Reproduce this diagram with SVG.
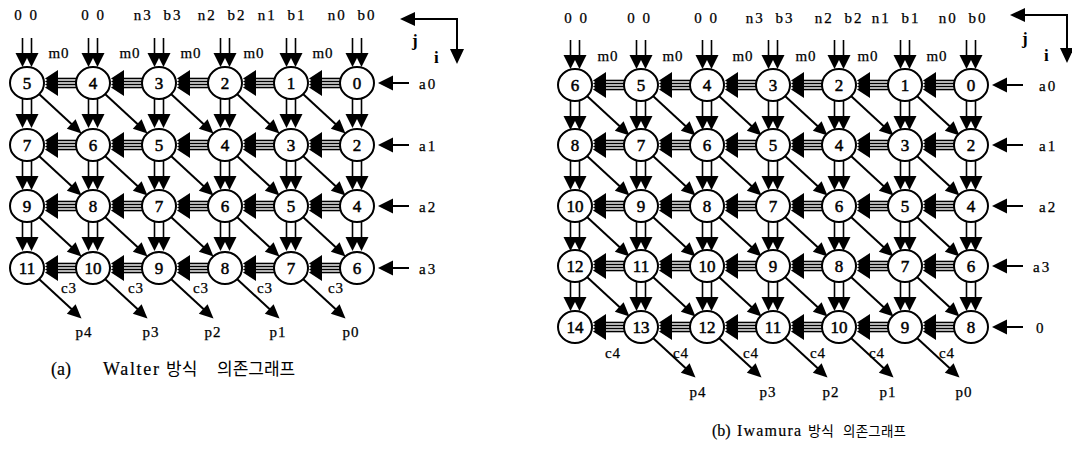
<svg xmlns="http://www.w3.org/2000/svg" width="1072" height="457" viewBox="0 0 1072 457">
<style>
.bg{fill:#fff}
line{stroke:#000;stroke-width:1.6}
.dl{stroke-width:2}
polygon{fill:#000}
.n ellipse{fill:#fff;stroke:#000;stroke-width:2}
.n text{font-family:"Liberation Serif",serif;font-size:17px;text-anchor:middle;fill:#000;stroke:#000;stroke-width:0.5}
.t{font-family:"Liberation Serif",serif;font-size:15px;fill:#000;stroke:#000;stroke-width:0.25}
.m{text-anchor:middle}
.top{letter-spacing:2px;word-spacing:5px}
.zz{letter-spacing:1px;word-spacing:2px}
.ls1{letter-spacing:1px}
.ls2{letter-spacing:2px}
.ax{font-family:"Liberation Serif",serif;font-size:17px;font-weight:bold;fill:#000}
.cap{font-family:"Liberation Serif",serif;font-size:18px;fill:#000;stroke:#000;stroke-width:0.2}
.ko{font-family:"Noto Sans CJK KR",sans-serif;fill:#000;stroke:none}
</style>
<defs>
<g id="v2">
<line x1="-4.5" y1="0" x2="-4.5" y2="16"/><line x1="4.5" y1="0" x2="4.5" y2="16"/>
<polygon points="-11.5,15 2.5,15 -4.5,29"/><polygon points="-2.5,15 11.5,15 4.5,29"/>
</g>
<g id="h4">
<line x1="10" y1="-4.5" x2="31" y2="-4.5"/><line x1="10" y1="-1.5" x2="31" y2="-1.5"/>
<line x1="10" y1="1.5" x2="31" y2="1.5"/><line x1="10" y1="4.5" x2="31" y2="4.5"/>
<polygon points="0,-4.5 13,-13 13,4"/><polygon points="0,-1.5 13,-10 13,7"/>
<polygon points="0,1.5 13,-7 13,10"/><polygon points="0,4.5 13,-4 13,13"/>
</g>
<g id="dg">
<line class="dl" x1="12" y1="11" x2="45" y2="41.5"/>
<polygon points="54.5,50.5 39.8,45.7 48.6,36.3"/>
</g>
<g id="ain">
<line class="dl" x1="18" y1="0" x2="35" y2="0"/>
<polygon points="4,0 19,-7.5 19,7.5"/>
</g>
</defs>
<rect class="bg" x="0" y="0" width="1072" height="457"/>

<g id="connectors">
<!-- left graph: top inputs -->
<use href="#v2" x="27" y="38"/><use href="#v2" x="93" y="38"/><use href="#v2" x="159" y="38"/>
<use href="#v2" x="225" y="38"/><use href="#v2" x="291" y="38"/><use href="#v2" x="357" y="38"/>
<!-- left vertical -->
<use href="#v2" x="27" y="99"/><use href="#v2" x="93" y="99"/><use href="#v2" x="159" y="99"/>
<use href="#v2" x="225" y="99"/><use href="#v2" x="291" y="99"/><use href="#v2" x="357" y="99"/>
<use href="#v2" x="27" y="161"/><use href="#v2" x="93" y="161"/><use href="#v2" x="159" y="161"/>
<use href="#v2" x="225" y="161"/><use href="#v2" x="291" y="161"/><use href="#v2" x="357" y="161"/>
<use href="#v2" x="27" y="222"/><use href="#v2" x="93" y="222"/><use href="#v2" x="159" y="222"/>
<use href="#v2" x="225" y="222"/><use href="#v2" x="291" y="222"/><use href="#v2" x="357" y="222"/>
<!-- left horizontal -->
<use href="#h4" x="45" y="83"/><use href="#h4" x="111" y="83"/><use href="#h4" x="177" y="83"/><use href="#h4" x="243" y="83"/><use href="#h4" x="309" y="83"/>
<use href="#h4" x="45" y="145"/><use href="#h4" x="111" y="145"/><use href="#h4" x="177" y="145"/><use href="#h4" x="243" y="145"/><use href="#h4" x="309" y="145"/>
<use href="#h4" x="45" y="206"/><use href="#h4" x="111" y="206"/><use href="#h4" x="177" y="206"/><use href="#h4" x="243" y="206"/><use href="#h4" x="309" y="206"/>
<use href="#h4" x="45" y="268"/><use href="#h4" x="111" y="268"/><use href="#h4" x="177" y="268"/><use href="#h4" x="243" y="268"/><use href="#h4" x="309" y="268"/>
<!-- left diagonal -->
<use href="#dg" x="27" y="83"/><use href="#dg" x="93" y="83"/><use href="#dg" x="159" y="83"/><use href="#dg" x="225" y="83"/><use href="#dg" x="291" y="83"/>
<use href="#dg" x="27" y="145"/><use href="#dg" x="93" y="145"/><use href="#dg" x="159" y="145"/><use href="#dg" x="225" y="145"/><use href="#dg" x="291" y="145"/>
<use href="#dg" x="27" y="206"/><use href="#dg" x="93" y="206"/><use href="#dg" x="159" y="206"/><use href="#dg" x="225" y="206"/><use href="#dg" x="291" y="206"/>
<use href="#dg" x="27" y="268"/><use href="#dg" x="93" y="268"/><use href="#dg" x="159" y="268"/><use href="#dg" x="225" y="268"/><use href="#dg" x="291" y="268"/>
<!-- left a inputs -->
<use href="#ain" x="374" y="83"/><use href="#ain" x="374" y="145"/><use href="#ain" x="374" y="206"/><use href="#ain" x="374" y="268"/>
<!-- left axes -->
<line class="dl" x1="457" y1="19" x2="412" y2="19"/><polygon points="400,19 415,12 415,26"/>
<line class="dl" x1="457" y1="18" x2="457" y2="50"/><polygon points="457,64 450,49 464,49"/>

<!-- right graph: top inputs -->
<use href="#v2" x="575" y="40"/><use href="#v2" x="641" y="40"/><use href="#v2" x="707" y="40"/><use href="#v2" x="773" y="40"/>
<use href="#v2" x="839" y="40"/><use href="#v2" x="905" y="40"/><use href="#v2" x="971" y="40"/>
<!-- right vertical -->
<use href="#v2" x="575" y="101"/><use href="#v2" x="641" y="101"/><use href="#v2" x="707" y="101"/><use href="#v2" x="773" y="101"/><use href="#v2" x="839" y="101"/><use href="#v2" x="905" y="101"/><use href="#v2" x="971" y="101"/>
<use href="#v2" x="575" y="161"/><use href="#v2" x="641" y="161"/><use href="#v2" x="707" y="161"/><use href="#v2" x="773" y="161"/><use href="#v2" x="839" y="161"/><use href="#v2" x="905" y="161"/><use href="#v2" x="971" y="161"/>
<use href="#v2" x="575" y="222"/><use href="#v2" x="641" y="222"/><use href="#v2" x="707" y="222"/><use href="#v2" x="773" y="222"/><use href="#v2" x="839" y="222"/><use href="#v2" x="905" y="222"/><use href="#v2" x="971" y="222"/>
<use href="#v2" x="575" y="282"/><use href="#v2" x="641" y="282"/><use href="#v2" x="707" y="282"/><use href="#v2" x="773" y="282"/><use href="#v2" x="839" y="282"/><use href="#v2" x="905" y="282"/><use href="#v2" x="971" y="282"/>
<!-- right horizontal -->
<use href="#h4" x="593" y="85"/><use href="#h4" x="659" y="85"/><use href="#h4" x="725" y="85"/><use href="#h4" x="791" y="85"/><use href="#h4" x="857" y="85"/><use href="#h4" x="923" y="85"/>
<use href="#h4" x="593" y="145"/><use href="#h4" x="659" y="145"/><use href="#h4" x="725" y="145"/><use href="#h4" x="791" y="145"/><use href="#h4" x="857" y="145"/><use href="#h4" x="923" y="145"/>
<use href="#h4" x="593" y="206"/><use href="#h4" x="659" y="206"/><use href="#h4" x="725" y="206"/><use href="#h4" x="791" y="206"/><use href="#h4" x="857" y="206"/><use href="#h4" x="923" y="206"/>
<use href="#h4" x="593" y="266"/><use href="#h4" x="659" y="266"/><use href="#h4" x="725" y="266"/><use href="#h4" x="791" y="266"/><use href="#h4" x="857" y="266"/><use href="#h4" x="923" y="266"/>
<use href="#h4" x="593" y="327"/><use href="#h4" x="659" y="327"/><use href="#h4" x="725" y="327"/><use href="#h4" x="791" y="327"/><use href="#h4" x="857" y="327"/><use href="#h4" x="923" y="327"/>
<!-- right diagonal -->
<use href="#dg" x="575" y="85"/><use href="#dg" x="641" y="85"/><use href="#dg" x="707" y="85"/><use href="#dg" x="773" y="85"/><use href="#dg" x="839" y="85"/><use href="#dg" x="905" y="85"/>
<use href="#dg" x="575" y="145"/><use href="#dg" x="641" y="145"/><use href="#dg" x="707" y="145"/><use href="#dg" x="773" y="145"/><use href="#dg" x="839" y="145"/><use href="#dg" x="905" y="145"/>
<use href="#dg" x="575" y="206"/><use href="#dg" x="641" y="206"/><use href="#dg" x="707" y="206"/><use href="#dg" x="773" y="206"/><use href="#dg" x="839" y="206"/><use href="#dg" x="905" y="206"/>
<use href="#dg" x="575" y="266"/><use href="#dg" x="641" y="266"/><use href="#dg" x="707" y="266"/><use href="#dg" x="773" y="266"/><use href="#dg" x="839" y="266"/><use href="#dg" x="905" y="266"/>
<use href="#dg" x="641" y="327"/><use href="#dg" x="707" y="327"/><use href="#dg" x="773" y="327"/><use href="#dg" x="839" y="327"/><use href="#dg" x="905" y="327"/>
<!-- right a inputs -->
<use href="#ain" x="988" y="85"/><use href="#ain" x="988" y="145"/><use href="#ain" x="988" y="206"/><use href="#ain" x="988" y="266"/><use href="#ain" x="988" y="327"/>
<!-- right axes -->
<line class="dl" x1="1067" y1="15" x2="1022" y2="15"/><polygon points="1010,15 1025,8 1025,22"/>
<line class="dl" x1="1067" y1="14" x2="1067" y2="49"/><polygon points="1067,63 1060,48 1074,48"/>
</g>

<!-- left graph nodes -->
<g id="a-n5" class="n"><ellipse cx="27" cy="83" rx="17" ry="16"/><text x="27" y="89">5</text></g>
<g id="a-n4" class="n"><ellipse cx="93" cy="83" rx="17" ry="16"/><text x="93" y="89">4</text></g>
<g id="a-n3" class="n"><ellipse cx="159" cy="83" rx="17" ry="16"/><text x="159" y="89">3</text></g>
<g id="a-n2" class="n"><ellipse cx="225" cy="83" rx="17" ry="16"/><text x="225" y="89">2</text></g>
<g id="a-n1" class="n"><ellipse cx="291" cy="83" rx="17" ry="16"/><text x="291" y="89">1</text></g>
<g id="a-n0" class="n"><ellipse cx="357" cy="83" rx="17" ry="16"/><text x="357" y="89">0</text></g>
<g id="a-r1-n7" class="n"><ellipse cx="27" cy="145" rx="17" ry="16"/><text x="27" y="151">7</text></g>
<g id="a-r1-n6" class="n"><ellipse cx="93" cy="145" rx="17" ry="16"/><text x="93" y="151">6</text></g>
<g id="a-r1-n5" class="n"><ellipse cx="159" cy="145" rx="17" ry="16"/><text x="159" y="151">5</text></g>
<g id="a-r1-n4" class="n"><ellipse cx="225" cy="145" rx="17" ry="16"/><text x="225" y="151">4</text></g>
<g id="a-r1-n3" class="n"><ellipse cx="291" cy="145" rx="17" ry="16"/><text x="291" y="151">3</text></g>
<g id="a-r1-n2" class="n"><ellipse cx="357" cy="145" rx="17" ry="16"/><text x="357" y="151">2</text></g>
<g id="a-r2-n9" class="n"><ellipse cx="27" cy="206" rx="17" ry="16"/><text x="27" y="212">9</text></g>
<g id="a-r2-n8" class="n"><ellipse cx="93" cy="206" rx="17" ry="16"/><text x="93" y="212">8</text></g>
<g id="a-r2-n7" class="n"><ellipse cx="159" cy="206" rx="17" ry="16"/><text x="159" y="212">7</text></g>
<g id="a-r2-n6" class="n"><ellipse cx="225" cy="206" rx="17" ry="16"/><text x="225" y="212">6</text></g>
<g id="a-r2-n5" class="n"><ellipse cx="291" cy="206" rx="17" ry="16"/><text x="291" y="212">5</text></g>
<g id="a-r2-n4" class="n"><ellipse cx="357" cy="206" rx="17" ry="16"/><text x="357" y="212">4</text></g>
<g id="a-r3-n11" class="n"><ellipse cx="27" cy="268" rx="17" ry="16"/><text x="27" y="274">11</text></g>
<g id="a-r3-n10" class="n"><ellipse cx="93" cy="268" rx="17" ry="16"/><text x="93" y="274">10</text></g>
<g id="a-r3-n9" class="n"><ellipse cx="159" cy="268" rx="17" ry="16"/><text x="159" y="274">9</text></g>
<g id="a-r3-n8" class="n"><ellipse cx="225" cy="268" rx="17" ry="16"/><text x="225" y="274">8</text></g>
<g id="a-r3-n7" class="n"><ellipse cx="291" cy="268" rx="17" ry="16"/><text x="291" y="274">7</text></g>
<g id="a-r3-n6" class="n"><ellipse cx="357" cy="268" rx="17" ry="16"/><text x="357" y="274">6</text></g>

<!-- right graph nodes -->
<g id="b-r0-n6" class="n"><ellipse cx="575" cy="85" rx="17" ry="16"/><text x="575" y="91">6</text></g>
<g id="b-r0-n5" class="n"><ellipse cx="641" cy="85" rx="17" ry="16"/><text x="641" y="91">5</text></g>
<g id="b-r0-n4" class="n"><ellipse cx="707" cy="85" rx="17" ry="16"/><text x="707" y="91">4</text></g>
<g id="b-r0-n3" class="n"><ellipse cx="773" cy="85" rx="17" ry="16"/><text x="773" y="91">3</text></g>
<g id="b-r0-n2" class="n"><ellipse cx="839" cy="85" rx="17" ry="16"/><text x="839" y="91">2</text></g>
<g id="b-r0-n1" class="n"><ellipse cx="905" cy="85" rx="17" ry="16"/><text x="905" y="91">1</text></g>
<g id="b-r0-n0" class="n"><ellipse cx="971" cy="85" rx="17" ry="16"/><text x="971" y="91">0</text></g>
<g id="b-r1-n8" class="n"><ellipse cx="575" cy="145" rx="17" ry="16"/><text x="575" y="151">8</text></g>
<g id="b-r1-n7" class="n"><ellipse cx="641" cy="145" rx="17" ry="16"/><text x="641" y="151">7</text></g>
<g id="b-r1-n6" class="n"><ellipse cx="707" cy="145" rx="17" ry="16"/><text x="707" y="151">6</text></g>
<g id="b-r1-n5" class="n"><ellipse cx="773" cy="145" rx="17" ry="16"/><text x="773" y="151">5</text></g>
<g id="b-r1-n4" class="n"><ellipse cx="839" cy="145" rx="17" ry="16"/><text x="839" y="151">4</text></g>
<g id="b-r1-n3" class="n"><ellipse cx="905" cy="145" rx="17" ry="16"/><text x="905" y="151">3</text></g>
<g id="b-r1-n2" class="n"><ellipse cx="971" cy="145" rx="17" ry="16"/><text x="971" y="151">2</text></g>
<g id="b-r2-n10" class="n"><ellipse cx="575" cy="206" rx="17" ry="16"/><text x="575" y="212">10</text></g>
<g id="b-r2-n9" class="n"><ellipse cx="641" cy="206" rx="17" ry="16"/><text x="641" y="212">9</text></g>
<g id="b-r2-n8" class="n"><ellipse cx="707" cy="206" rx="17" ry="16"/><text x="707" y="212">8</text></g>
<g id="b-r2-n7" class="n"><ellipse cx="773" cy="206" rx="17" ry="16"/><text x="773" y="212">7</text></g>
<g id="b-r2-n6" class="n"><ellipse cx="839" cy="206" rx="17" ry="16"/><text x="839" y="212">6</text></g>
<g id="b-r2-n5" class="n"><ellipse cx="905" cy="206" rx="17" ry="16"/><text x="905" y="212">5</text></g>
<g id="b-r2-n4" class="n"><ellipse cx="971" cy="206" rx="17" ry="16"/><text x="971" y="212">4</text></g>
<g id="b-r3-n12" class="n"><ellipse cx="575" cy="266" rx="17" ry="16"/><text x="575" y="272">12</text></g>
<g id="b-r3-n11" class="n"><ellipse cx="641" cy="266" rx="17" ry="16"/><text x="641" y="272">11</text></g>
<g id="b-r3-n10" class="n"><ellipse cx="707" cy="266" rx="17" ry="16"/><text x="707" y="272">10</text></g>
<g id="b-r3-n9" class="n"><ellipse cx="773" cy="266" rx="17" ry="16"/><text x="773" y="272">9</text></g>
<g id="b-r3-n8" class="n"><ellipse cx="839" cy="266" rx="17" ry="16"/><text x="839" y="272">8</text></g>
<g id="b-r3-n7" class="n"><ellipse cx="905" cy="266" rx="17" ry="16"/><text x="905" y="272">7</text></g>
<g id="b-r3-n6" class="n"><ellipse cx="971" cy="266" rx="17" ry="16"/><text x="971" y="272">6</text></g>
<g id="b-r4-n14" class="n"><ellipse cx="575" cy="327" rx="17" ry="16"/><text x="575" y="333">14</text></g>
<g id="b-r4-n13" class="n"><ellipse cx="641" cy="327" rx="17" ry="16"/><text x="641" y="333">13</text></g>
<g id="b-r4-n12" class="n"><ellipse cx="707" cy="327" rx="17" ry="16"/><text x="707" y="333">12</text></g>
<g id="b-r4-n11" class="n"><ellipse cx="773" cy="327" rx="17" ry="16"/><text x="773" y="333">11</text></g>
<g id="b-r4-n10" class="n"><ellipse cx="839" cy="327" rx="17" ry="16"/><text x="839" y="333">10</text></g>
<g id="b-r4-n9" class="n"><ellipse cx="905" cy="327" rx="17" ry="16"/><text x="905" y="333">9</text></g>
<g id="b-r4-n8" class="n"><ellipse cx="971" cy="327" rx="17" ry="16"/><text x="971" y="333">8</text></g>

<!-- left labels -->
<g id="a-labels" class="t">
<text class="m zz" x="26" y="20">0 0</text><text class="m zz" x="93" y="20">0 0</text>
<text class="m top" x="158" y="20">n3 b3</text><text class="m top" x="222" y="20">n2 b2</text>
<text class="m top" x="282" y="20">n1 b1</text><text class="m top" x="352" y="20">n0 b0</text>
<text class="m ls1" x="59" y="58">m0</text><text class="m ls1" x="130" y="58">m0</text><text class="m ls1" x="191" y="58">m0</text>
<text class="m ls1" x="254" y="58">m0</text><text class="m ls1" x="323" y="58">m0</text>
<text class="ls2" x="419" y="89">a0</text><text class="ls2" x="419" y="151">a1</text><text class="ls2" x="419" y="212">a2</text><text class="ls2" x="419" y="274">a3</text>
<text class="m ls1" x="69" y="293">c3</text><text class="m ls1" x="136" y="293">c3</text><text class="m ls1" x="201" y="293">c3</text>
<text class="m ls1" x="265" y="293">c3</text><text class="m ls1" x="336" y="293">c3</text>
<text class="m ls1" x="84" y="337">p4</text><text class="m ls1" x="151" y="337">p3</text><text class="m ls1" x="213" y="337">p2</text>
<text class="m ls1" x="278" y="337">p1</text><text class="m ls1" x="351" y="337">p0</text>
</g>
<text class="ax" x="412" y="46">j</text><text class="ax" x="434" y="63">i</text>
<g id="a-caption" class="cap">
<text x="51" y="375">(a)</text>
<text x="103" y="375" textLength="56">Walter</text>
<text class="ko" x="166" y="375" font-size="17">방식</text>
<text class="ko" x="217" y="375" font-size="17">의존그래프</text>
</g>

<!-- right labels -->
<g id="b-labels" class="t">
<text class="m zz" x="576" y="23">0 0</text><text class="m zz" x="639" y="23">0 0</text><text class="m zz" x="706" y="23">0 0</text>
<text class="m top" x="770" y="23">n3 b3</text><text class="m top" x="839" y="23">n2 b2</text>
<text class="m top" x="896" y="23">n1 b1</text><text class="m top" x="963" y="23">n0 b0</text>
<text class="m ls1" x="608" y="61">m0</text><text class="m ls1" x="673" y="61">m0</text><text class="m ls1" x="743" y="61">m0</text>
<text class="m ls1" x="806" y="61">m0</text><text class="m ls1" x="868" y="61">m0</text><text class="m ls1" x="937" y="61">m0</text>
<text class="ls2" x="1039" y="91">a0</text><text class="ls2" x="1039" y="151">a1</text><text class="ls2" x="1039" y="212">a2</text><text class="ls2" x="1033" y="272">a3</text><text x="1036" y="333">0</text>
<text class="m ls1" x="613" y="358">c4</text><text class="m ls1" x="681" y="358">c4</text><text class="m ls1" x="751" y="358">c4</text>
<text class="m ls1" x="818" y="358">c4</text><text class="m ls1" x="877" y="358">c4</text><text class="m ls1" x="947" y="358">c4</text>
<text class="m ls1" x="698" y="397">p4</text><text class="m ls1" x="768" y="397">p3</text><text class="m ls1" x="831" y="397">p2</text>
<text class="m ls1" x="888" y="397">p1</text><text class="m ls1" x="964" y="397">p0</text>
</g>
<text class="ax" x="1022" y="44">j</text><text class="ax" x="1044" y="61">i</text>
<g id="b-caption" class="cap">
<text x="712" y="436" style="font-size:16px">(b)</text>
<text x="737" y="436" style="font-size:16px" textLength="64">Iwamura</text>
<text class="ko" x="808" y="436" font-size="14">방식</text>
<text class="ko" x="843" y="436" font-size="13.5" textLength="63">의존그래프</text>
</g>
</svg>
